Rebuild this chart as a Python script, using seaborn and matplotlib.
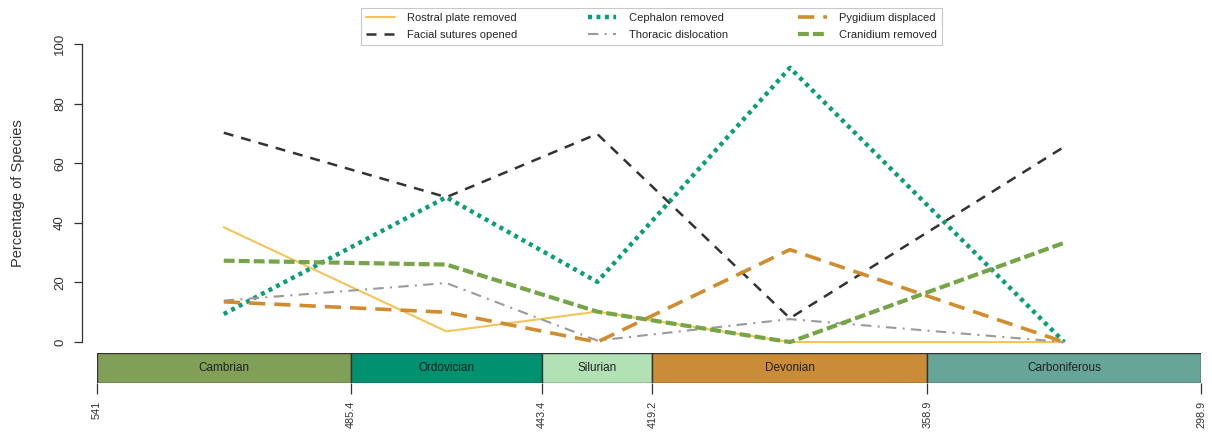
import numpy as np
import pandas as pd
import matplotlib
matplotlib.use("Agg")
import matplotlib.pyplot as plt
import matplotlib.transforms as mtransforms
import seaborn as sns

sns.set_theme(style="white")
plt.rcParams["font.family"] = ["Liberation Sans", "DejaVu Sans"]

# Geological periods (Ma boundaries) and their standard colours
periods = ["Cambrian", "Ordovician", "Silurian", "Devonian", "Carboniferous"]
period_start = [541.0, 485.4, 443.4, 419.2, 358.9]
period_end = [485.4, 443.4, 419.2, 358.9, 298.9]
period_colors = ["#7FA056", "#009270", "#B3E1B6", "#CB8C37", "#67A599"]
boundary_labels = ["541", "485.4", "443.4", "419.2", "358.9", "298.9"]

# Percentage axis ticks
y_ticks = [0, 20, 40, 60, 80, 100]
y_tick_labels = ["0", "20", "40", "60", "80", "100"]

# Percentage of species showing each moulting mode, per period
rostral_plate = [38.5, 3.6, 10.2, 0.0, 0.0]
facial_sutures = [70.2, 48.6, 69.8, 8.0, 65.5]
cephalon = [9.4, 48.6, 20.2, 92.0, 0.0]
thoracic = [13.9, 19.8, 0.5, 7.7, 0.0]
pygidium = [13.5, 10.0, 0.0, 31.0, 0.0]
cranidium = [27.3, 26.0, 10.2, 0.0, 33.3]

mid_age = [(s + e) / 2 for s, e in zip(period_start, period_end)]

series = [
    ("Rostral plate removed", rostral_plate, "#F3C45A", 1.5, "-"),
    ("Facial sutures opened", facial_sutures, "#333333", 1.8, (0, (4, 3.2))),
    ("Cephalon removed", cephalon, "#0A9E78", 3.2, (0, (0.9, 1.0))),
    ("Thoracic dislocation", thoracic, "#9A9A9A", 1.5, (0, (5, 3, 1, 3))),
    ("Pygidium displaced", pygidium, "#D08C2E", 2.6, (0, (4.5, 2.5))),
    ("Cranidium removed", cranidium, "#76A548", 3.0, (0, (2.6, 1.0))),
]

W, H = 1212, 432
fig = plt.figure(figsize=(W / 100, H / 100), dpi=100)

x0, x1 = 97, 1201
ax = fig.add_axes([x0 / W, 1 - 354 / H, (x1 - x0) / W, (354 - 32) / H])
for name, vals, col, lw, ls in series:
    df = pd.DataFrame({"age": mid_age, "pct": vals})
    sns.lineplot(data=df, x="age", y="pct", ax=ax, color=col, linewidth=lw,
                 linestyle=ls, label=name, legend=False, sort=False)
ax.set_xlim(541, 298.9)
ax.set_ylim(-4, 104)
ax.set_xticks([])
ax.set_xlabel("")
ax.set_yticks(y_ticks)
ax.tick_params(axis="y", direction="out", length=6, width=0.9, left=True,
               colors="#333333", labelleft=False)
# R-style vertical tick labels, centred on their ticks
lab_tf = mtransforms.blended_transform_factory(ax.transAxes, ax.transData)
lab_tf = lab_tf + mtransforms.ScaledTranslation(-31 / 100, 0, fig.dpi_scale_trans)
for v, t in zip(y_ticks, y_tick_labels):
    ax.text(0, v, t, transform=lab_tf, rotation=90, ha="right", va="center",
            fontsize=9.5, color="#333333")
for s in ["top", "right", "bottom"]:
    ax.spines[s].set_visible(False)
ax.spines["left"].set_position(("outward", 11))
ax.spines["left"].set_bounds(0, 100)
ax.spines["left"].set_color("#333333")
ax.spines["left"].set_linewidth(0.9)
ax.set_ylabel("Percentage of Species", fontsize=10.5, color="#333333")
ax.yaxis.set_label_coords((25 - x0) / (x1 - x0), 0.5)
ax.patch.set_alpha(0)

handles, labels = ax.get_legend_handles_labels()
leg = fig.legend(handles, labels, ncol=3, loc="center",
                 bbox_to_anchor=((358 + 945) / 2 / W, 1 - 26.5 / H),
                 fontsize=8, frameon=True, fancybox=False, edgecolor="#BBBBBB",
                 handlelength=2.6, columnspacing=6.3, handletextpad=1.1,
                 borderpad=0.45, labelspacing=0.6)
leg.get_frame().set_linewidth(0.8)

# Geological time scale strip
tax = fig.add_axes([x0 / W, 1 - 383 / H, (x1 - x0) / W, (383 - 353) / H])
for name, s, e, c in zip(periods, period_start, period_end, period_colors):
    tax.barh(0.5, e - s, left=s, height=1.0, color=c, edgecolor="#333333",
             linewidth=1.0, align="center")
    tax.text((s + e) / 2, 0.5, name, ha="center", va="center", fontsize=8.5,
             color="#222222")
tax.set_xlim(541, 298.9)
tax.set_ylim(0, 1)
tax.set_yticks([])
bounds = period_start + [period_end[-1]]
tax.set_xticks(bounds)
tax.set_xticklabels(boundary_labels, rotation=90, fontsize=7.8, color="#333333")
tax.tick_params(axis="x", direction="out", length=8, width=0.9, bottom=True,
                colors="#333333", pad=5)
for sp in tax.spines.values():
    sp.set_visible(False)
tax.patch.set_alpha(0)

fig.savefig("out.png", dpi=100)
